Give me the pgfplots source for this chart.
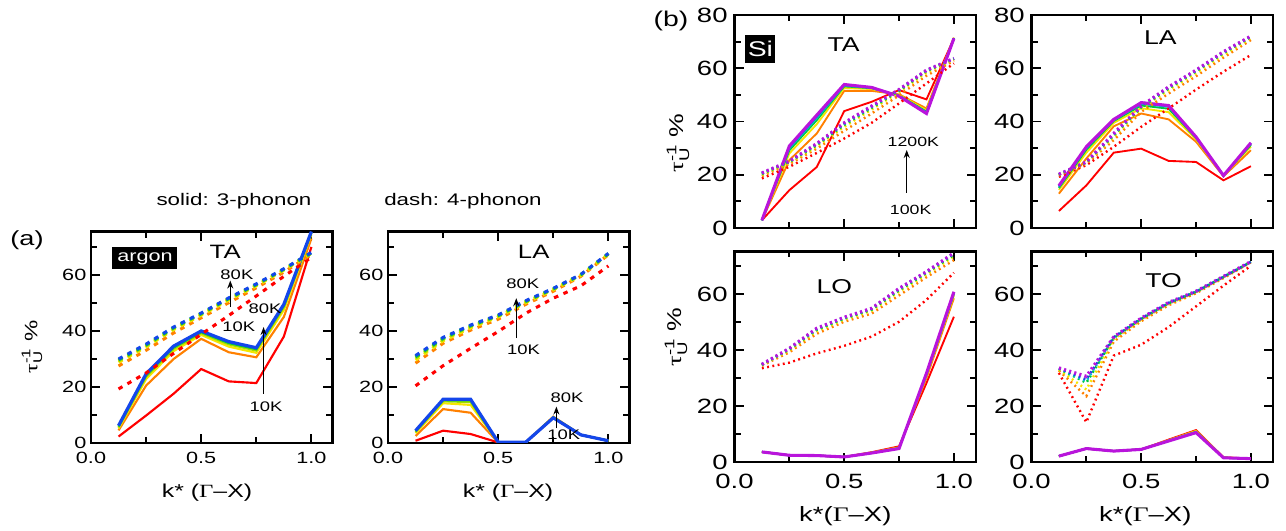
\documentclass[border=0pt]{standalone}
\usepackage{pgfplots}
\pgfplotsset{compat=1.18}
\usepackage{pgfplotstable}
\usepackage{amsmath}
\usepackage{fontspec}
\setmainfont{Liberation Sans}[FakeStretch=1.33]
\newfontfamily\sym{Liberation Serif}[FakeStretch=1.33]
\usetikzlibrary{arrows.meta}

\definecolor{cR}{RGB}{255,0,0}
\definecolor{cO}{RGB}{255,128,0}
\definecolor{cY}{RGB}{245,230,0}
\definecolor{cYG}{RGB}{160,220,0}
\definecolor{cG}{RGB}{0,200,60}
\definecolor{cC}{RGB}{0,190,210}
\definecolor{cB}{RGB}{20,70,235}
\definecolor{cBs}{RGB}{40,60,230}
\definecolor{cP}{RGB}{185,20,220}

\tikzset{
 as/.style={line width=1.6pt},
 asb/.style={line width=2.4pt},
 ad/.style={line width=2.3pt, dash pattern=on 3.4pt off 4.3pt},
 ss/.style={line width=1.4pt},
 ssp/.style={line width=2.3pt},
 sd/.style={line width=1.8pt, dash pattern=on 1.4pt off 2.6pt},
 sdp/.style={line width=2.4pt, dash pattern=on 1.6pt off 2.4pt},
 arr/.style={line width=1.1pt, -{Stealth[length=6pt,width=4.5pt]}},
}

\newcommand\xlab{k* ({\sym Γ}–X)}
\newcommand\xlabb{k*({\sym Γ}–X)}
\newcommand\ylab{$\text{\sym τ}_{\text{U}}^{\text{-1}}$ \%}

\pgfplotsset{
 /pgf/number format/assume math mode=true,
 base/.style={scale only axis, xmin=0, ymin=0,
   axis line style={line width=2pt},
   every tick/.style={line width=1.4pt, black},
   major tick length=7pt, minor tick length=4.5pt,
   tick align=inside, tick pos=both,
   xtick={0,0.5,1}, minor xtick={0.25,0.75},
   ytick={0,20,40,60,80}, minor ytick={10,30,50,70},
   xticklabel style={/pgf/number format/fixed, /pgf/number format/fixed zerofill, /pgf/number format/precision=1},
   clip mode=individual},
 aax/.style={base, xmax=1.095, ymax=75.5, width=181pt, height=158.6pt,
   tick label style={font=\fontsize{12.2}{14}\selectfont},
   every x tick label/.append style={yshift=-3.5pt}},
 bax/.style={base, xmax=1.1, width=181pt,
   tick label style={font=\fontsize{15.5}{18}\selectfont, inner sep=1pt},
   every x tick label/.append style={yshift=-8pt},
   every y tick label/.append style={xshift=-4pt}},
}

% ---------- argon TA ----------
\pgfplotstableread{
k r o y yg g b
0.125 2.3 4.5 5.2 5.6 5.9 6.2
0.25 9.8 20.5 22.8 23.6 24.2 24.7
0.375 17.6 30.0 32.8 33.6 34.1 34.6
0.5 26.4 37.2 38.6 39.2 39.6 40.0
0.625 22.0 32.4 34.4 35.2 35.7 36.2
0.75 21.4 30.6 32.2 33.0 33.5 34.0
0.875 38.0 45.0 47.5 48.4 49.0 49.5
1.0 70.0 73.0 74.5 75.0 75.3 75.5
}\ArTAs
\pgfplotstableread{
k r o y yg g b
0.125 19.3 27.5 28.8 29.3 29.7 30.0
0.25 25.0 33.1 34.3 34.7 35.0 35.3
0.375 32.0 39.3 40.5 40.9 41.2 41.4
0.5 38.8 44.7 45.6 46.0 46.2 46.4
0.625 45.5 50.1 51.0 51.4 51.6 51.8
0.75 52.5 55.4 56.1 56.4 56.6 56.8
0.875 59.5 61.0 61.7 61.9 62.1 62.2
1.0 66.3 67.3 67.7 67.8 67.9 68.0
}\ArTAd
% ---------- argon LA ----------
\pgfplotstableread{
k r o y yg g b
0.125 0.8 2.5 3.5 3.9 4.2 4.4
0.25 4.4 12.1 14.2 14.9 15.3 15.6
0.375 3.2 10.8 13.6 14.6 15.2 15.6
0.5 0.2 0.2 0.2 0.2 0.2 0.3
0.625 0.2 0.2 0.2 0.2 0.2 0.3
0.75 9.0 9.4 9.3 9.2 9.1 9.0
0.875 2.9 2.9 2.9 2.9 2.9 2.9
1.0 0.8 0.8 0.8 0.8 0.8 0.8
}\ArLAs
\pgfplotstableread{
k r o y yg g b
0.125 20.4 28.5 29.6 30.3 30.8 31.2
0.25 27.6 35.6 36.5 37.0 37.4 37.7
0.375 33.8 40.3 41.1 41.6 41.9 42.1
0.5 39.8 44.2 45.0 45.3 45.5 45.7
0.625 46.3 49.5 50.1 50.4 50.6 50.8
0.75 51.7 54.2 54.7 54.9 55.1 55.2
0.875 56.1 59.5 59.8 60.0 60.1 60.2
1.0 63.2 67.2 67.4 67.5 67.6 67.7
}\ArLAd
% ---------- Si TA ----------
\pgfplotstableread{
k r o y g c b p
0.125 2.9 2.9 2.9 2.9 2.9 2.9 2.9
0.25 14.2 25.5 28.0 29.2 29.9 30.4 30.8
0.375 22.9 35.5 39.0 40.5 41.3 41.9 42.4
0.5 43.9 51.5 52.6 53.2 53.5 53.7 53.9
0.625 47.4 51.5 52.2 52.5 52.6 52.7 52.8
0.75 51.8 50.2 50.0 49.8 49.7 49.6 49.5
0.875 48.3 44.9 44.2 43.7 43.4 43.2 43.0
1.0 71.2 71.5 71.4 71.3 71.3 71.2 71.2
}\SiTAs
\pgfplotstableread{
k r o y g c b p
0.125 18.6 19.5 20.0 20.3 20.5 20.6 20.7
0.25 23.0 24.0 24.5 24.8 24.9 25.0 25.1
0.375 28.2 29.8 30.6 31.1 31.4 31.6 31.7
0.5 33.6 36.5 38.0 38.7 39.1 39.3 39.5
0.625 39.5 43.0 44.5 45.1 45.5 45.7 45.8
0.75 46.8 49.8 51.0 51.5 51.8 51.9 52.0
0.875 54.3 57.2 58.4 58.9 59.1 59.2 59.3
1.0 61.8 62.8 63.3 63.5 63.6 63.7 63.7
}\SiTAd
% ---------- Si LA ----------
\pgfplotstableread{
k r o y g c b p
0.125 6.4 12.9 14.3 15.0 15.4 15.7 15.9
0.25 16.0 26.1 28.3 29.4 30.0 30.3 30.5
0.375 28.3 38.2 39.5 40.2 40.5 40.7 40.8
0.5 29.8 43.0 45.0 46.0 46.6 46.9 47.1
0.625 25.2 40.8 43.5 44.8 45.5 45.8 46.0
0.75 24.8 32.4 33.3 33.8 34.0 34.1 34.2
0.875 17.9 19.4 19.6 19.7 19.7 19.7 19.7
1.0 23.2 29.2 30.6 31.2 31.6 31.8 32.0
}\SiLAs
\pgfplotstableread{
k r o y g c b p
0.125 19.2 19.7 19.9 20.0 20.1 20.15 20.2
0.25 23.6 24.2 24.5 24.6 24.7 24.75 24.8
0.375 30.5 33.0 34.2 34.8 35.1 35.3 35.5
0.5 38.0 43.6 44.8 45.3 45.5 45.7 45.8
0.625 44.9 50.5 51.8 52.4 52.7 52.9 53.0
0.75 52.0 57.0 58.2 58.8 59.0 59.2 59.3
0.875 58.7 64.0 65.1 65.7 65.9 66.1 66.2
1.0 65.0 70.6 71.3 71.7 71.9 72.0 72.1
}\SiLAd
% ---------- Si LO ----------
\pgfplotstableread{
k r o y g c b p
0.125 3.6 3.6 3.6 3.6 3.6 3.6 3.6
0.25 2.4 2.4 2.4 2.4 2.4 2.4 2.4
0.375 2.3 2.3 2.3 2.3 2.3 2.3 2.3
0.5 1.8 1.8 1.8 1.8 1.8 1.8 1.8
0.625 3.5 3.4 3.3 3.3 3.2 3.2 3.2
0.75 5.6 5.3 5.1 5.0 4.9 4.85 4.8
0.875 28.2 30.0 30.8 31.2 31.4 31.6 31.7
1.0 51.9 58.5 59.5 60.0 60.4 60.6 60.8
}\SiLOs
\pgfplotstableread{
k r o y g c b p
0.125 33.5 34.4 34.6 34.7 34.8 34.85 34.9
0.25 35.5 39.2 39.9 40.2 40.4 40.5 40.6
0.375 38.8 45.8 46.8 47.2 47.5 47.7 47.8
0.5 41.5 50.1 50.9 51.2 51.5 51.6 51.7
0.625 44.8 53.0 54.0 54.4 54.7 54.8 54.9
0.75 50.1 59.5 60.8 61.3 61.7 61.9 62.0
0.875 57.9 66.0 67.0 67.5 67.8 67.9 68.0
1.0 67.6 72.1 73.4 74.0 74.4 74.6 74.7
}\SiLOd
% ---------- Si TO ----------
\pgfplotstableread{
k r o y g c b p
0.125 2.1 2.1 2.1 2.1 2.1 2.1 2.1
0.25 4.8 4.8 4.8 4.8 4.8 4.8 4.8
0.375 3.9 3.9 3.9 3.9 3.9 3.9 3.9
0.5 4.5 4.5 4.5 4.5 4.5 4.5 4.5
0.625 8.0 7.8 7.7 7.6 7.6 7.5 7.5
0.75 11.4 11.2 11.0 10.8 10.7 10.6 10.5
0.875 1.7 1.6 1.6 1.5 1.5 1.5 1.5
1.0 1.2 1.2 1.2 1.2 1.2 1.2 1.2
}\SiTOs
\pgfplotstableread{
k r o y g c b p
0.125 31.8 32.6 33.0 33.3 33.4 33.5 33.6
0.25 14.2 23.5 25.9 28.3 28.9 29.5 30.6
0.375 38.0 43.0 43.8 44.3 44.5 44.6 44.7
0.5 41.9 50.3 50.8 51.1 51.2 51.3 51.4
0.625 48.2 56.0 56.5 56.7 56.8 56.9 57.0
0.75 55.6 60.3 60.6 60.8 60.9 60.9 61.0
0.875 63.0 65.7 66.0 66.1 66.2 66.2 66.3
1.0 70.1 71.3 71.4 71.5 71.5 71.5 71.6
}\SiTOd

\newcommand\argonplots[2]{%
 \addplot[as,cR] table[x=k,y=r]{#1};
 \addplot[as,cO] table[x=k,y=o]{#1};
 \addplot[as,cY] table[x=k,y=y]{#1};
 \addplot[as,cYG] table[x=k,y=yg]{#1};
 \addplot[as,cG] table[x=k,y=g]{#1};
 \addplot[asb,cB] table[x=k,y=b]{#1};
 \addplot[ad,cR] table[x=k,y=r]{#2};
 \addplot[ad,cO] table[x=k,y=o]{#2};
 \addplot[ad,cY] table[x=k,y=y]{#2};
 \addplot[ad,cYG] table[x=k,y=yg]{#2};
 \addplot[ad,cG] table[x=k,y=g]{#2};
 \addplot[ad,cB] table[x=k,y=b]{#2};
}
\newcommand\siplots[2]{%
 \addplot[ss,cR] table[x=k,y=r]{#1};
 \addplot[ss,cO] table[x=k,y=o]{#1};
 \addplot[ss,cY] table[x=k,y=y]{#1};
 \addplot[ss,cG] table[x=k,y=g]{#1};
 \addplot[ss,cC] table[x=k,y=c]{#1};
 \addplot[ss,cBs] table[x=k,y=b]{#1};
 \addplot[ssp,cP] table[x=k,y=p]{#1};
 \addplot[sd,cR] table[x=k,y=r]{#2};
 \addplot[sd,cO] table[x=k,y=o]{#2};
 \addplot[sd,cY] table[x=k,y=y]{#2};
 \addplot[sd,cG] table[x=k,y=g]{#2};
 \addplot[sd,cC] table[x=k,y=c]{#2};
 \addplot[sd,cBs] table[x=k,y=b]{#2};
 \addplot[sdp,cP] table[x=k,y=p]{#2};
}

\begin{document}
\begin{tikzpicture}
\path[use as bounding box] (0pt,0pt) rectangle (964.5pt,398.25pt);

% (a) argon TA
\begin{axis}[aax, at={(68.25pt,66pt)}, anchor=south west]
\argonplots{\ArTAs}{\ArTAd}
\node[fill=black, text=white, minimum width=48.75pt, minimum height=16.5pt, inner sep=0pt, font=\fontsize{12.2}{14}\selectfont] at (axis cs:0.245,65.9) {argon};
\node[font=\fontsize{14.5}{17}\selectfont] at (axis cs:0.609,68.1) {TA};
\draw[arr] (axis cs:0.632,48.5) -- (axis cs:0.632,58.0);
\node[font=\fontsize{10.4}{12}\selectfont] at (axis cs:0.662,60.1) {80K};
\node[font=\fontsize{10.4}{12}\selectfont] at (axis cs:0.67,41.4) {10K};
\draw[arr] (axis cs:0.783,17.6) -- (axis cs:0.783,41.4);
\node[font=\fontsize{10.4}{12}\selectfont] at (axis cs:0.79,47.9) {80K};
\node[font=\fontsize{10.4}{12}\selectfont] at (axis cs:0.794,12.8) {10K};
\end{axis}

% (a) argon LA
\begin{axis}[aax, at={(291pt,66pt)}, anchor=south west]
\argonplots{\ArLAs}{\ArLAd}
\node[font=\fontsize{14.5}{17}\selectfont] at (axis cs:0.661,68.1) {LA};
\draw[arr] (axis cs:0.582,37.4) -- (axis cs:0.582,51.7);
\node[font=\fontsize{10.4}{12}\selectfont] at (axis cs:0.612,57) {80K};
\node[font=\fontsize{10.4}{12}\selectfont] at (axis cs:0.615,33.2) {10K};
\draw[arr] (axis cs:0.764,5.2) -- (axis cs:0.764,13);
\node[font=\fontsize{10.4}{12}\selectfont] at (axis cs:0.812,16) {80K};
\node[font=\fontsize{10.4}{12}\selectfont] at (axis cs:0.797,2.9) {10K};
\end{axis}

% (b) Si TA
\begin{axis}[bax, at={(550.875pt,227.25pt)}, anchor=south west, height=159.75pt, ymax=80, xticklabels={}]
\siplots{\SiTAs}{\SiTAd}
\node[fill=black, text=white, minimum width=22.5pt, minimum height=21pt, inner sep=0pt, font=\fontsize{16}{18}\selectfont] at (axis cs:0.118,67.3) {Si};
\node[font=\fontsize{15}{17}\selectfont] at (axis cs:0.497,68.8) {TA};
\draw[arr] (axis cs:0.785,13.3) -- (axis cs:0.785,29.3);
\node[font=\fontsize{10}{12}\selectfont] at (axis cs:0.815,32.5) {1200K};
\node[font=\fontsize{10}{12}\selectfont] at (axis cs:0.803,6.8) {100K};
\end{axis}

% (b) Si LA
\begin{axis}[bax, at={(773.625pt,227.25pt)}, anchor=south west, height=159.75pt, ymax=80, xticklabels={}]
\siplots{\SiLAs}{\SiLAd}
\node[font=\fontsize{15}{17}\selectfont] at (axis cs:0.587,71.4) {LA};
\end{axis}

% (b) Si LO
\begin{axis}[bax, at={(550.875pt,51.75pt)}, anchor=south west, height=157.875pt, ymax=75.2]
\siplots{\SiLOs}{\SiLOd}
\node[font=\fontsize{15}{17}\selectfont] at (axis cs:0.455,62.6) {LO};
\end{axis}

% (b) Si TO
\begin{axis}[bax, at={(773.625pt,51.75pt)}, anchor=south west, height=157.875pt, ymax=75.2]
\siplots{\SiTOs}{\SiTOd}
\node[font=\fontsize{15}{17}\selectfont] at (axis cs:0.602,64.9) {TO};
\end{axis}

% free text
\node[font=\fontsize{15.3}{18}\selectfont] at (20.25pt,218.25pt) {(a)};
\node[font=\fontsize{12.6}{15}\selectfont] at (175.5pt,247.5pt) {solid: 3-phonon};
\node[font=\fontsize{12.6}{15}\selectfont] at (347.25pt,247.5pt) {dash: 4-phonon};
\node[font=\fontsize{16}{19}\selectfont] at (503.25pt,382.5pt) {(b)};
\node[font=\fontsize{14}{17}\selectfont] at (155.25pt,29pt) {\xlab};
\node[font=\fontsize{14}{17}\selectfont] at (381pt,29pt) {\xlab};
\node[font=\fontsize{15.5}{18}\selectfont] at (634pt,11pt) {\xlabb};
\node[font=\fontsize{15.5}{18}\selectfont] at (859pt,11pt) {\xlabb};
\node[rotate=90, font=\fontsize{13.5}{16}\selectfont] at (24pt,138pt) {\ylab};
\node[rotate=90, font=\fontsize{15}{18}\selectfont] at (508.5pt,291pt) {\ylab};
\node[rotate=90, font=\fontsize{15}{18}\selectfont] at (507pt,145.5pt) {\ylab};
\end{tikzpicture}
\end{document}
